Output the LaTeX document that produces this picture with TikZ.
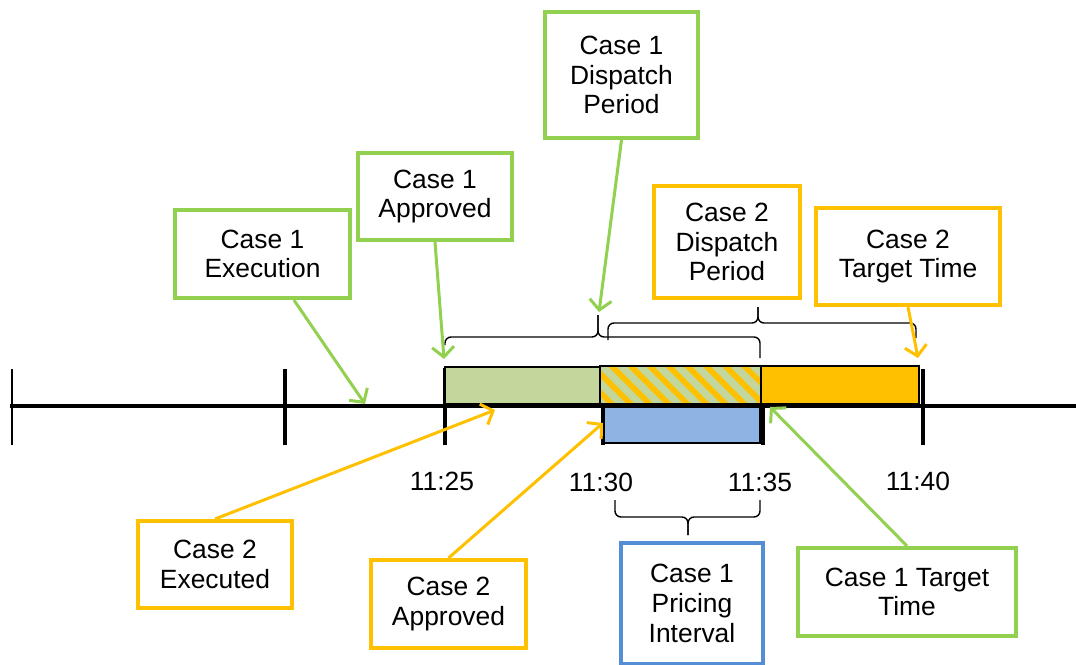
\documentclass[tikz,border=0pt]{standalone}
\usepackage{fontspec}
\setmainfont{Liberation Sans}
\usepackage{tikz}
\usetikzlibrary{arrows.meta,patterns.meta}
\definecolor{caseG}{RGB}{146,208,80}
\definecolor{caseO}{RGB}{255,192,0}
\definecolor{caseB}{RGB}{85,142,213}
\definecolor{barG}{RGB}{195,214,155}
\definecolor{barB}{RGB}{142,180,227}

\begin{document}
\begin{tikzpicture}[x=0.5pt,y=-0.5pt,
  font=\fontsize{13.2}{14.9}\selectfont,
  box/.style={draw=#1,line width=2pt,align=center,inner sep=0pt},
  pointer/.style={draw=#1,line width=1.5pt,-{Straight Barb[length=5pt,width=11pt]}},
  bar/.style={draw=black,line width=0.7pt},
  brk/.style={line width=0.7pt,rounded corners=3pt},
  tick/.style={line width=2pt}]
  \useasboundingbox (0,0) rectangle (1076,664);

  % time axis
  \draw[line width=2pt] (10,406) -- (1076,406);
  \draw[line width=1pt] (12,369) -- (12,445);
  \draw[tick] (285,369) -- (285,445);
  \draw[tick] (445,368) -- (445,445);
  \draw[tick] (603,405) -- (603,445);
  \draw[tick] (763,405) -- (763,445);
  \draw[tick] (923,369) -- (923,445);

  \draw[bar,fill=barG] (445,367) rectangle (600,404);
  \draw[bar,preaction={fill=barG},pattern={Lines[angle=-45,distance=6.7pt,line width=2.8pt]},pattern color=caseO] (600,366) rectangle (761,404);
  \draw[bar,fill=caseO] (761,366) rectangle (919,404);
  \draw[bar,fill=barB] (604,407) rectangle (760,443);

  \node (l25) at (442,481) {11:25};
  \node (l30) at (601,482) {11:30};
  \node (l35) at (760,482) {11:35};
  \node (l40) at (918,481) {11:40};

  % braces
  \draw[brk] (445,345) |- (598,337) -- (598,315);
  \draw[brk] (598,315) -- (598,337) -| (760,358);
  \draw[brk] (608,340) |- (758,323) -- (758,307);
  \draw[brk] (758,307) -- (758,323) -| (916,338);
  \draw[brk] (615,500) |- (688,517) -- (688,535);
  \draw[brk] (688,535) -- (688,517) -| (760,500);

  \node[box=caseG,minimum width=76.5pt,minimum height=63pt] (c1disp) at (621.5,75) {Case 1\\Dispatch\\Period};
  \node[box=caseG,minimum width=77pt,minimum height=43.5pt] (c1appr) at (435,196.5) {Case 1\\Approved};
  \node[box=caseG,minimum width=87.5pt,minimum height=44pt] (c1exec) at (262.5,254) {Case 1\\Execution};
  \node[box=caseO,minimum width=73pt,minimum height=56pt] (c2disp) at (727,242) {Case 2\\Dispatch\\Period};
  \node[box=caseO,minimum width=92pt,minimum height=48.5pt] (c2target) at (908,256.5) {Case 2\\Target Time};
  \node[box=caseO,minimum width=77pt,minimum height=43.5pt] (c2exec) at (215,564.5) {Case 2\\Executed};
  \node[box=caseO,minimum width=77.5pt,minimum height=44pt] (c2appr) at (448.5,604) {Case 2\\Approved};
  \node[box=caseB,minimum width=71pt,minimum height=60.5pt] (c1price) at (692,603.5) {Case 1\\Pricing\\Interval};
  \node[box=caseG,minimum width=109pt,minimum height=44pt] (c1target) at (907,592) {Case 1 Target\\Time};

  \coordinate (tExec1) at (365,404);
  \coordinate (tAppr1) at (444,359);
  \coordinate (tDisp1) at (599,312);
  \coordinate (tTarget2) at (918,358);
  \coordinate (tExec2) at (495,410);
  \coordinate (tAppr2) at (603,423);
  \coordinate (tTarget1) at (770,407);

  \draw[pointer=caseG] (c1exec) -- (tExec1);
  \draw[pointer=caseG] (c1appr.south) -- (tAppr1);
  \draw[pointer=caseG] (c1disp.south) -- (tDisp1);
  \draw[pointer=caseO] (c2target.south) -- (tTarget2);
  \draw[pointer=caseO] (c2exec.north) -- (tExec2);
  \draw[pointer=caseO] (c2appr.north) -- (tAppr2);
  \draw[pointer=caseG] (c1target.north) -- (tTarget1);
\end{tikzpicture}
\end{document}
